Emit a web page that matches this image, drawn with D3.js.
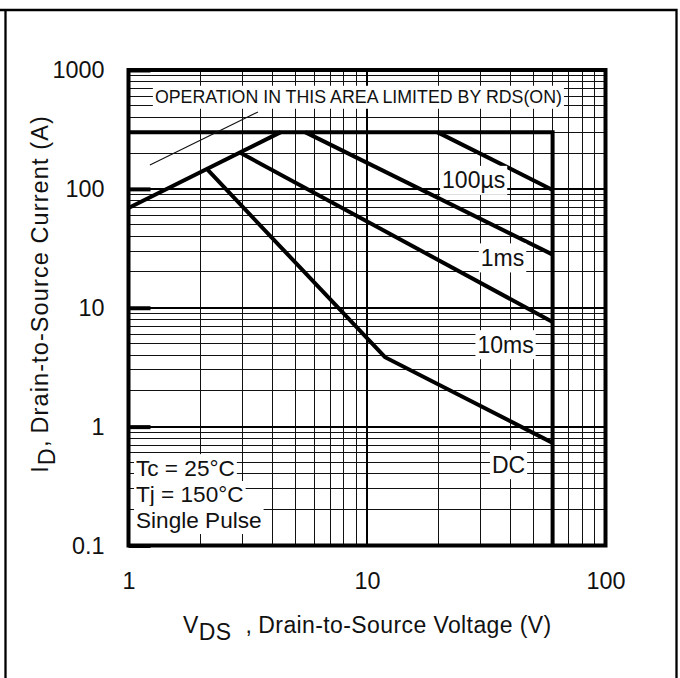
<!DOCTYPE html>
<html>
<head>
<meta charset="utf-8">
<script src="https://cdn.jsdelivr.net/npm/d3@7"></script>
<style>
  body { margin: 0; background: #fff; }
  text { font-family: "Liberation Sans", Arial, Helvetica, sans-serif; fill: #111; }
</style>
</head>
<body>
<svg id="chart" width="680" height="678"></svg>
<script>
// Axis ranges and tick labels
const xDomain = [1, 100];
const yDomain = [0.1, 1000];
const xTicks = [1, 10, 100];
const xTickLabels = ["1", "10", "100"];
const yTicks = [0.1, 1, 10, 100, 1000];
const yTickLabels = ["0.1", "1", "10", "100", "1000"];

// Safe operating area boundaries: [VDS (V), ID (A)]
const rdsLimit = [[1, 69], [4.35, 300]];
const maxRatings = [[1, 300], [60, 300], [60, 0.1]];
const pulse100us = [[19.7, 300], [60, 98]];
const pulse1ms = [[5.5, 300], [60, 28]];
const pulse10ms = [[2.93, 202], [60, 7.6]];
const dcLimit = [[2.13, 147], [11.9, 3.84], [60, 0.73]];

// Leader line for the RDS(on) note: [VDS, ID]
const rdsPointer = [[1.23, 159], [3.49, 444]];

// Curve labels, anchored in data units
const curveLabels = [
  { text: "100\u00b5s", v: 28, i: 101 },
  { text: "1ms", v: 37, i: 22.5 },
  { text: "10ms", v: 38.1, i: 4.19 },
  { text: "DC", v: 39.2, i: 0.41 }
];
const rdsNote = { text: "OPERATION IN THIS AREA LIMITED BY RDS(ON)", v: 1.29, i: 525 };
const conditions = [
  { text: "Tc = 25\u00b0C", v: 1.075, i: 0.387 },
  { text: "Tj = 150\u00b0C", v: 1.075, i: 0.23 },
  { text: "Single Pulse", v: 1.075, i: 0.1416 }
];

const W = 680, H = 678;
const plot = { left: 128.5, right: 605.5, top: 70, bottom: 545.5 };

const x = d3.scaleLog().domain(xDomain).range([plot.left, plot.right]);
const y = d3.scaleLog().domain(yDomain).range([plot.bottom, plot.top]);

const svg = d3.select("#chart");

// Page frame (open at the bottom)
svg.append("path")
  .attr("d", `M0,10H676.5V${H}M5.5,10V${H}`)
  .attr("fill", "none").attr("stroke", "#000").attr("stroke-width", 2.3);

// Logarithmic grid: minor lines at 2..9 of each decade
const minorOf = (lo, hi) => {
  const out = [];
  for (let e = Math.round(Math.log10(lo)); e < Math.round(Math.log10(hi)); e++) {
    for (let k = 2; k <= 9; k++) out.push(k * Math.pow(10, e));
  }
  return out;
};
const xMinor = minorOf(xDomain[0], xDomain[1]);
const yMinor = minorOf(yDomain[0], yDomain[1]);
const xMajor = xTicks.filter(v => v > xDomain[0] && v < xDomain[1]);
const yMajor = yTicks.filter(v => v > yDomain[0] && v < yDomain[1]);

const grid = svg.append("g").attr("shape-rendering", "crispEdges");
grid.selectAll(".vx").data(xMinor).join("line")
  .attr("x1", d => x(d)).attr("x2", d => x(d))
  .attr("y1", plot.top).attr("y2", plot.bottom)
  .attr("stroke", "#111").attr("stroke-width", 1);
grid.selectAll(".hy").data(yMinor).join("line")
  .attr("y1", d => y(d)).attr("y2", d => y(d))
  .attr("x1", plot.left).attr("x2", plot.right)
  .attr("stroke", "#111").attr("stroke-width", 1);
grid.selectAll(".vmaj").data(xMajor).join("line")
  .attr("x1", d => x(d)).attr("x2", d => x(d))
  .attr("y1", plot.top).attr("y2", plot.bottom)
  .attr("stroke", "#000").attr("stroke-width", 2);
grid.selectAll(".hmaj").data(yMajor).join("line")
  .attr("y1", d => y(d)).attr("y2", d => y(d))
  .attr("x1", plot.left).attr("x2", plot.right)
  .attr("stroke", "#000").attr("stroke-width", 2);

// Axes: tick labels and short heavy ticks on the left edge
const tickFont = 23.4;
const yAxis = d3.axisLeft(y)
  .tickValues(yTicks)
  .tickFormat((d, i) => yTickLabels[i])
  .tickSize(-22).tickPadding(24);
const gy = svg.append("g").attr("transform", `translate(${plot.left},0)`).call(yAxis);
gy.select(".domain").remove();
gy.selectAll(".tick line").attr("stroke", "#000").attr("stroke-width", 4);
gy.selectAll(".tick text").attr("font-size", tickFont).attr("fill", "#111")
  .attr("font-family", '"Liberation Sans", Arial, sans-serif');

const xAxis = d3.axisBottom(x)
  .tickValues(xTicks)
  .tickFormat((d, i) => xTickLabels[i])
  .tickSize(0).tickPadding(26.6);
const gx = svg.append("g").attr("transform", `translate(0,${plot.bottom})`).call(xAxis);
gx.select(".domain").remove();
gx.selectAll(".tick text").attr("font-size", tickFont).attr("fill", "#111")
  .attr("font-family", '"Liberation Sans", Arial, sans-serif');

// Limit curves
const line = d3.line().x(d => x(d[0])).y(d => y(d[1]));
const curves = svg.append("g").attr("fill", "none").attr("stroke", "#000")
  .attr("stroke-width", 4).attr("stroke-linejoin", "miter");
[maxRatings, rdsLimit, pulse100us, pulse1ms, pulse10ms, dcLimit].forEach(c => {
  curves.append("path").attr("d", line(c));
});

// Leader line to the RDS(on) note
svg.append("path").attr("d", line(rdsPointer))
  .attr("fill", "none").attr("stroke", "#111").attr("stroke-width", 1.1);

// Text with a white backing box that hides the grid behind it
function boxedText(parent, txt, px, py, size, anchor) {
  const g = parent.append("g");
  const t = g.append("text")
    .attr("x", px).attr("y", py)
    .attr("font-size", size)
    .attr("text-anchor", anchor)
    .text(txt);
  const b = t.node().getBBox();
  g.insert("rect", "text")
    .attr("x", b.x - 2).attr("y", b.y - 1.5)
    .attr("width", b.width + 4).attr("height", b.height + 3)
    .attr("fill", "#fff");
  return g;
}

const labels = svg.append("g");
boxedText(labels, rdsNote.text, x(rdsNote.v), y(rdsNote.i), 17.8, "start");
curveLabels.forEach(l => boxedText(labels, l.text, x(l.v), y(l.i), 23, "middle"));
conditions.forEach(l => boxedText(labels, l.text, x(l.v), y(l.i), 22.6, "start"));

// Plot frame
svg.append("rect")
  .attr("x", plot.left).attr("y", plot.top)
  .attr("width", plot.right - plot.left).attr("height", plot.bottom - plot.top)
  .attr("fill", "none").attr("stroke", "#000").attr("stroke-width", 4);

// Axis titles
const xt = svg.append("text").attr("x", 183).attr("y", 633)
  .attr("font-size", 23).attr("letter-spacing", 0.4);
xt.append("tspan").text("V");
xt.append("tspan").attr("dy", 7).text("DS");
xt.append("tspan").attr("dy", -7).attr("dx", 14).text(",");
xt.append("tspan").attr("dx", 6).text("Drain-to-Source Voltage (V)");

const yt = svg.append("text")
  .attr("transform", "translate(48,294) rotate(-90)")
  .attr("text-anchor", "middle").attr("font-size", 23.5)
  .attr("letter-spacing", 1.1);
yt.append("tspan").text("I");
yt.append("tspan").attr("dy", 7).text("D");
yt.append("tspan").attr("dy", -7).text(",");
yt.append("tspan").attr("dx", 6).text("Drain-to-Source Current (A)");
</script>
</body>
</html>
